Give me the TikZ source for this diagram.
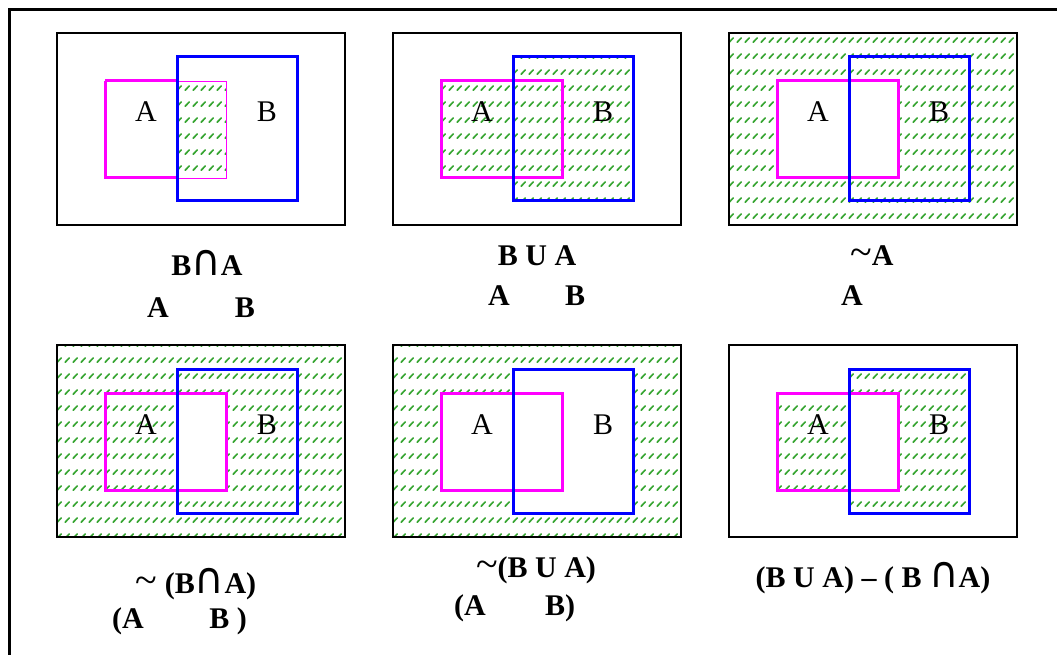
\documentclass[tikz,border=0pt]{standalone}
\usepackage{fontspec}
\usepackage{graphicx}
\setmainfont{Liberation Serif}
\newfontfamily\symfont{DejaVu Sans}
\usetikzlibrary{patterns.meta}
\definecolor{hatchgreen}{RGB}{55,165,50}
\definecolor{setmag}{RGB}{255,0,255}
\definecolor{setblue}{RGB}{0,0,255}
\tikzdeclarepattern{
  name=dashhatch,
  type=uncolored,
  bounding box={(0pt,0pt) and (8pt,16pt)},
  tile size={(8pt,16pt)},
  code={
    \draw[line width=1.8pt, line cap=round] (1.3pt,5pt) -- (5.9pt,9.6pt);
  }
}
\newcommand{\capsym}{\raisebox{-0.5pt}{\scalebox{1.35}[1.45]{\mdseries\symfont\fontsize{30}{30}\selectfont ∩}}}
\newcommand{\tildesym}{{\mdseries\fontsize{40}{40}\selectfont\char`~}}
\tikzset{
  hatch/.style={pattern=dashhatch, pattern color=hatchgreen},
  univ/.style={draw=black, line width=1.5pt},
  seta/.style={draw=setmag, line width=3pt},
  setb/.style={draw=setblue, line width=3pt},
  inlbl/.style={font=\fontsize{30}{34}\selectfont, anchor=base, inner sep=0pt},
  oplbl/.style={font=\fontsize{30}{34}\selectfont\bfseries, anchor=base, inner sep=0pt},
}
\begin{document}
\begin{tikzpicture}[x=1pt,y=-1pt]
\useasboundingbox (0,0) rectangle (1057,655);
\fill[white] (0,0) rectangle (1057,655);
% outer frame
\draw[line width=3pt] (9.5,655) -- (9.5,9.5) -- (1057,9.5);

% ---------- Panel 1: intersection ----------
\begin{scope}[shift={(57,33)}]
  \fill[hatch] (120,48) rectangle (169,145);
  \draw[univ] (0,0) rectangle (288,192);
  \draw[seta] (48,48) -- (120,48);
  \draw[seta] (120,145) -- (48,145) -- (48,48);
  \draw[draw=setmag, line width=0.8pt] (120,48) -- (169,48) -- (169,145) -- (120,145);
  \draw[setb] (120,24) rectangle (240,168);
  \node[inlbl] (p1a) at (89,89) {A};
  \node[inlbl] (p1b) at (210,89) {B};
\end{scope}
\node[oplbl] (l1) at (207,275) {B\capsym A};
\node[oplbl] (l1a) at (158,317) {A};
\node[oplbl] (l1b) at (245,317) {B};

% ---------- Panel 2: union ----------
\begin{scope}[shift={(393,33)}]
  \fill[hatch] (48,48) -- (120,48) -- (120,24) -- (240,24) -- (240,168) -- (120,168) -- (120,145) -- (48,145) -- cycle;
  \draw[univ] (0,0) rectangle (288,192);
  \draw[seta] (48,48) rectangle (169,145);
  \draw[setb] (120,24) rectangle (240,168);
  \node[inlbl] (p2a) at (89,89) {A};
  \node[inlbl] (p2b) at (210,89) {B};
\end{scope}
\node[oplbl] (l2) at (537,265) {B U A};
\node[oplbl] (l2a) at (499,305) {A};
\node[oplbl] (l2b) at (575,305) {B};

% ---------- Panel 3: complement of A ----------
\begin{scope}[shift={(729,33)}]
  \fill[hatch, even odd rule] (0,0) rectangle (288,192) (48,48) rectangle (169,145);
  \draw[univ] (0,0) rectangle (288,192);
  \draw[seta] (48,48) rectangle (169,145);
  \draw[setb] (120,24) rectangle (240,168);
  \node[inlbl] (p3a) at (89,89) {A};
  \node[inlbl] (p3b) at (210,89) {B};
\end{scope}
\node[oplbl] (l3) at (872,265) {\tildesym A};
\node[oplbl] (l3a) at (852,305) {A};

% ---------- Panel 4: complement of intersection ----------
\begin{scope}[shift={(57,345)}]
  \fill[hatch, even odd rule] (0,0) rectangle (288,192) (120,48) rectangle (169,145);
  \draw[univ] (0,0) rectangle (288,192);
  \draw[seta] (48,48) rectangle (169,145);
  \draw[setb] (120,24) rectangle (240,168);
  \node[inlbl] (p4a) at (89,89) {A};
  \node[inlbl] (p4b) at (210,89) {B};
\end{scope}
\node[oplbl] (l4) at (196,593) {\tildesym\ (B\capsym A)};
\node[oplbl] (l4a) at (128,628) {(A};
\node[oplbl] (l4b) at (228,628) {B )};

% ---------- Panel 5: complement of union ----------
\begin{scope}[shift={(393,345)}]
  \fill[hatch, even odd rule] (0,0) rectangle (288,192)
     (48,48) -- (120,48) -- (120,24) -- (240,24) -- (240,168) -- (120,168) -- (120,145) -- (48,145) -- cycle;
  \draw[univ] (0,0) rectangle (288,192);
  \draw[seta] (48,48) rectangle (169,145);
  \draw[setb] (120,24) rectangle (240,168);
  \node[inlbl] (p5a) at (89,89) {A};
  \node[inlbl] (p5b) at (210,89) {B};
\end{scope}
\node[oplbl] (l5) at (536,577) {\tildesym(B U A)};
\node[oplbl] (l5a) at (470,615) {(A};
\node[oplbl] (l5b) at (560,615) {B)};

% ---------- Panel 6: symmetric difference ----------
\begin{scope}[shift={(729,345)}]
  \fill[hatch, even odd rule] (48,48) rectangle (169,145) (120,24) rectangle (240,168);
  \draw[univ] (0,0) rectangle (288,192);
  \draw[seta] (48,48) rectangle (169,145);
  \draw[setb] (120,24) rectangle (240,168);
  \node[inlbl] (p6a) at (89,89) {A};
  \node[inlbl] (p6b) at (210,89) {B};
\end{scope}
\node[oplbl] (l6) at (873,587) {(B U A) – ( B \capsym A)};
\end{tikzpicture}
\end{document}
